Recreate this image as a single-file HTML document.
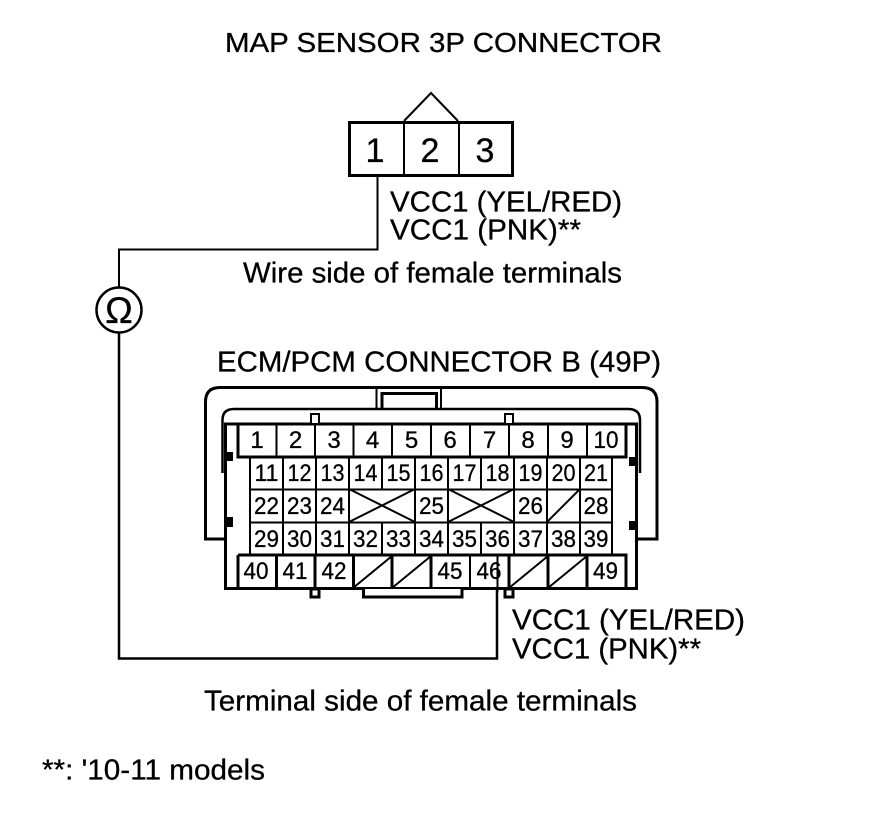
<!DOCTYPE html>
<html><head><meta charset="utf-8"><style>
html,body{margin:0;padding:0;background:#fff}
svg{display:block}
text{font-family:"Liberation Sans",sans-serif;fill:#000;stroke:#000;stroke-width:.3px}
.t{font-size:29px}
.n{font-size:24px;text-anchor:middle}
.c{font-size:34px;text-anchor:middle}
.g line,.g path,.g rect{shape-rendering:crispEdges}
</style></head><body>
<svg width="880" height="838" viewBox="0 0 880 838" xmlns="http://www.w3.org/2000/svg">
<rect width="880" height="838" fill="#fff"/>
<text class="t" style="font-size:28px" x="225" y="52" textLength="437" lengthAdjust="spacingAndGlyphs">MAP SENSOR 3P CONNECTOR</text>
<text class="t" x="390" y="211.500" textLength="232" lengthAdjust="spacingAndGlyphs">VCC1 (YEL/RED)</text>
<text class="t" x="390" y="239.500" textLength="191" lengthAdjust="spacingAndGlyphs">VCC1 (PNK)**</text>
<text class="t" x="243" y="282.500" textLength="379" lengthAdjust="spacingAndGlyphs">Wire side of female terminals</text>
<text class="t" x="217" y="371.500" textLength="444" lengthAdjust="spacingAndGlyphs">ECM/PCM CONNECTOR B (49P)</text>
<text class="t" x="512" y="629.500" textLength="233" lengthAdjust="spacingAndGlyphs">VCC1 (YEL/RED)</text>
<text class="t" x="512" y="658.500" textLength="189" lengthAdjust="spacingAndGlyphs">VCC1 (PNK)**</text>
<text class="t" x="204" y="710.500" textLength="433" lengthAdjust="spacingAndGlyphs">Terminal side of female terminals</text>
<text class="t" x="42" y="779.500" textLength="223" lengthAdjust="spacingAndGlyphs">**: '10-11 models</text>

<!-- 3P connector -->
<g fill="none" stroke="#000">
<rect x="349.5" y="122.5" width="163" height="53" stroke-width="3"/>
<line x1="404" y1="121" x2="404" y2="176" stroke-width="2"/>
<line x1="459" y1="121" x2="459" y2="176" stroke-width="2"/>
<path d="M404 121 L431 93 L458 121" stroke-width="2"/>
</g>
<text class="c" x="375" y="162">1</text>
<text class="c" x="430" y="162">2</text>
<text class="c" x="485" y="162">3</text>

<!-- wires -->
<path d="M377.500 176 V249.500 H119 V287" fill="none" stroke="#000" stroke-width="2"/>
<path d="M119 332 V658.500 H497 V590" fill="none" stroke="#000" stroke-width="2.500"/>
<circle cx="119" cy="310" r="22.500" fill="#fff" stroke="#000" stroke-width="2.500"/>
<text x="119" y="323" style="font-size:37px;text-anchor:middle">Ω</text>

<!-- shells -->
<g fill="none" stroke="#000">
<path d="M225 539 H205.500 V402 Q205.500 387.500 220 387.500 H642 Q657 387.500 657 402 V539 H637" stroke-width="3"/>
<path d="M222.500 473 V420 Q222.500 409 234 409 H628 Q640 409 640 420 V473" stroke-width="2.500"/>
<path d="M376.500 387 V409 M441 387 V409" stroke-width="2"/>
<path d="M382 409 V393.500 H436.500 V409" stroke-width="3"/>
</g>
<rect x="225.500" y="424" width="411" height="164.500" fill="#fff" stroke="#000" stroke-width="3"/>
<g class="g">
<rect x="311" y="414" width="8" height="10" fill="#fff" stroke="#000" stroke-width="2"/>
<rect x="505" y="414" width="8" height="10" fill="#fff" stroke="#000" stroke-width="2"/>
<rect x="311" y="589" width="8" height="8" fill="#fff" stroke="#000" stroke-width="3"/>
<rect x="505" y="589" width="8" height="8" fill="#fff" stroke="#000" stroke-width="3"/>
<path d="M363.500 589 V597 H462 V589" fill="#fff" stroke="#000" stroke-width="3"/>
<rect x="226" y="452" width="7" height="9"/>
<rect x="226" y="517" width="7" height="10"/>
<rect x="629" y="457" width="8" height="9"/>
<rect x="629" y="521" width="8" height="9"/>
</g>

<!-- grid -->
<g stroke="#000" fill="none">
<path stroke-width="3" d="M238 424 V457 H626 V424 M238 555 V588 M238 555 H626 V588"/>
<path stroke-width="2" d="M276.500 424 V457 M315 424 V457 M353.500 424 V457 M392 424 V457 M431 424 V457 M470 424 V457 M509 424 V457 M548 424 V457 M587 424 V457"/>
<path stroke-width="3" d="M276.500 555 V588 M315 555 V588 M353.500 555 V588 M392 555 V588 M431 555 V588 M509 555 V588 M548 555 V588 M587 555 V588"/>
<path stroke-width="2" d="M470 555 V588"/>
<path stroke-width="2" d="M250 457 V555 M612 457 V555 M250 489.500 H612 M250 522.500 H612"/>
<path stroke-width="2" d="M283 457 V555 M316 457 V555 M349 457 V555 M382 457 V489 M382 522 V555 M415 457 V555 M448 457 V555 M481 457 V489 M481 522 V555 M514 457 V555 M547 457 V555 M580 457 V555"/>
<path stroke-width="2" d="M349 489 L415 522 M349 522 L415 489 M448 489 L514 522 M448 522 L514 489 M547 522 L580 489"/>
<path stroke-width="2" d="M353 588 L392 556 M392 588 L431 556 M509 588 L548 556 M548 588 L587 556"/>
<path stroke-width="2" d="M497.500 555 V592"/>
</g>

<g>
<text class="n" x="257" y="448">1</text><text class="n" x="295.500" y="448">2</text><text class="n" x="334" y="448">3</text><text class="n" x="372.500" y="448">4</text><text class="n" x="411.500" y="448">5</text><text class="n" x="450" y="448">6</text><text class="n" x="489.500" y="448">7</text><text class="n" x="528" y="448">8</text><text class="n" x="567" y="448">9</text><text class="n" x="606" y="448" textLength="25" lengthAdjust="spacingAndGlyphs">10</text>
<text class="n" x="266.500" y="481" textLength="24" lengthAdjust="spacingAndGlyphs">11</text><text class="n" x="299.500" y="481" textLength="24" lengthAdjust="spacingAndGlyphs">12</text><text class="n" x="332.500" y="481" textLength="24" lengthAdjust="spacingAndGlyphs">13</text><text class="n" x="365.500" y="481" textLength="24" lengthAdjust="spacingAndGlyphs">14</text><text class="n" x="398.500" y="481" textLength="24" lengthAdjust="spacingAndGlyphs">15</text><text class="n" x="431.500" y="481" textLength="24" lengthAdjust="spacingAndGlyphs">16</text><text class="n" x="464.500" y="481" textLength="24" lengthAdjust="spacingAndGlyphs">17</text><text class="n" x="497.500" y="481" textLength="24" lengthAdjust="spacingAndGlyphs">18</text><text class="n" x="530.500" y="481" textLength="24" lengthAdjust="spacingAndGlyphs">19</text><text class="n" x="563.500" y="481" textLength="24" lengthAdjust="spacingAndGlyphs">20</text><text class="n" x="596" y="481" textLength="24" lengthAdjust="spacingAndGlyphs">21</text>
<text class="n" x="266.500" y="514" textLength="25" lengthAdjust="spacingAndGlyphs">22</text><text class="n" x="299.500" y="514" textLength="25" lengthAdjust="spacingAndGlyphs">23</text><text class="n" x="332.500" y="514" textLength="25" lengthAdjust="spacingAndGlyphs">24</text><text class="n" x="431.500" y="514" textLength="25" lengthAdjust="spacingAndGlyphs">25</text><text class="n" x="530.500" y="514" textLength="25" lengthAdjust="spacingAndGlyphs">26</text><text class="n" x="596" y="514" textLength="25" lengthAdjust="spacingAndGlyphs">28</text>
<text class="n" x="266.500" y="547" textLength="25" lengthAdjust="spacingAndGlyphs">29</text><text class="n" x="299.500" y="547" textLength="25" lengthAdjust="spacingAndGlyphs">30</text><text class="n" x="332.500" y="547" textLength="25" lengthAdjust="spacingAndGlyphs">31</text><text class="n" x="365.500" y="547" textLength="25" lengthAdjust="spacingAndGlyphs">32</text><text class="n" x="398.500" y="547" textLength="25" lengthAdjust="spacingAndGlyphs">33</text><text class="n" x="431.500" y="547" textLength="25" lengthAdjust="spacingAndGlyphs">34</text><text class="n" x="464.500" y="547" textLength="25" lengthAdjust="spacingAndGlyphs">35</text><text class="n" x="497.500" y="547" textLength="25" lengthAdjust="spacingAndGlyphs">36</text><text class="n" x="530.500" y="547" textLength="25" lengthAdjust="spacingAndGlyphs">37</text><text class="n" x="563.500" y="547" textLength="25" lengthAdjust="spacingAndGlyphs">38</text><text class="n" x="596" y="547" textLength="25" lengthAdjust="spacingAndGlyphs">39</text>
<text class="n" x="256" y="579" textLength="25" lengthAdjust="spacingAndGlyphs">40</text><text class="n" x="295" y="579" textLength="25" lengthAdjust="spacingAndGlyphs">41</text><text class="n" x="334" y="579" textLength="25" lengthAdjust="spacingAndGlyphs">42</text><text class="n" x="450" y="579" textLength="25" lengthAdjust="spacingAndGlyphs">45</text><text class="n" x="489" y="579" textLength="25" lengthAdjust="spacingAndGlyphs">46</text><text class="n" x="605.500" y="579" textLength="25" lengthAdjust="spacingAndGlyphs">49</text>
</g>
</svg>
</body></html>
